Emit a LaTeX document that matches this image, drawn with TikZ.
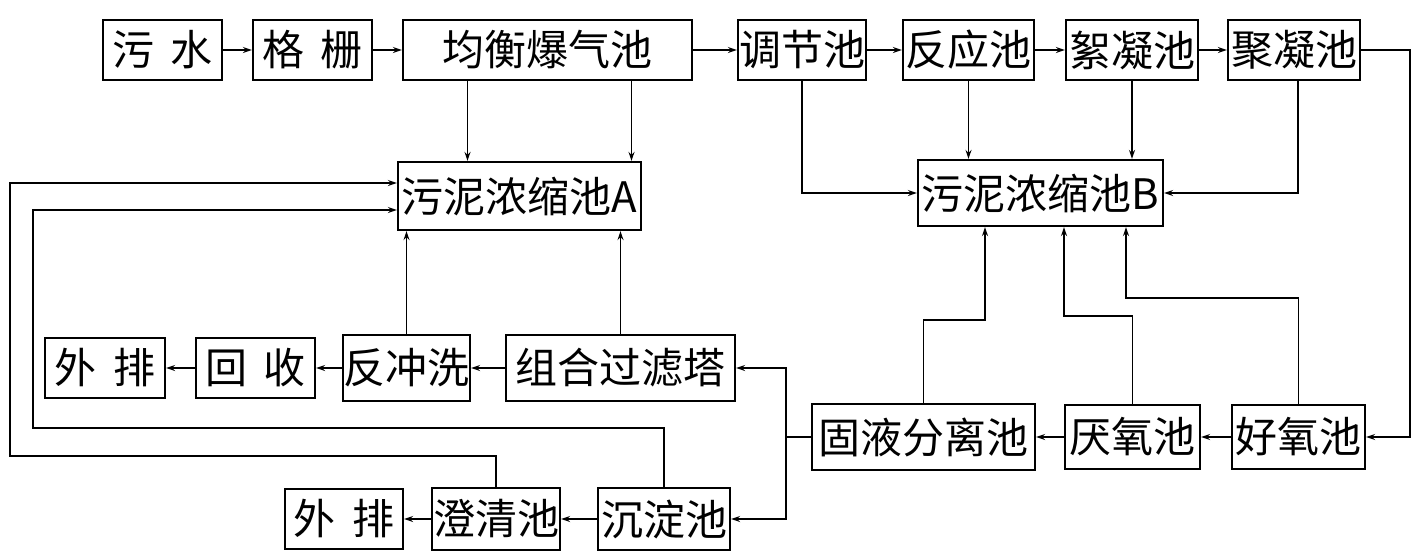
\documentclass[tikz,border=0pt]{standalone}
\usepackage{fontspec}
\newfontfamily\cjk{Noto Sans CJK SC}
\usetikzlibrary{arrows.meta}
\begin{document}
\begin{tikzpicture}[x=1pt,y=-1pt,
  box/.style={draw,line width=2.2pt,inner sep=0pt,minimum height=60pt,font=\cjk\fontsize{42}{44}\selectfont},
  arr/.style={-{Stealth[length=9pt,width=6pt]},line width=1.9pt}]
\useasboundingbox (0,0) rectangle (1417,555);

% Top row
\node[box,minimum width=119pt] (sw) at (162.5,50) {污\hspace{0.4em}水};
\node[box,minimum width=119pt] (gs) at (312.5,50) {格\hspace{0.4em}栅};
\node[box,minimum width=289pt] (jh) at (547.5,50) {均衡爆气池};
\node[box,minimum width=128pt] (tj) at (802,50) {调节池};
\node[box,minimum width=131pt] (fy) at (968.5,50) {反应池};
\node[box,minimum width=132pt] (xn) at (1132,50) {絮凝池};
\node[box,minimum width=132pt] (jn) at (1294,50) {聚凝池};

% Sludge thickeners
\node[box,minimum width=243pt,minimum height=68pt] (nsA) at (519.5,196) {污泥浓缩池A};
\node[box,minimum width=245pt,minimum height=66pt] (nsB) at (1040.5,193) {污泥浓缩池B};

% Filter row
\node[box,minimum width=120pt] (wp1) at (105,368) {外\hspace{0.4em}排};
\node[box,minimum width=119pt] (hs) at (255.5,368) {回\hspace{0.4em}收};
\node[box,minimum width=127pt,minimum height=66pt] (fcx) at (406.5,368) {反冲洗};
\node[box,minimum width=229pt,minimum height=66pt] (zh) at (620.5,368) {组合过滤塔};

% Biological row
\node[box,minimum width=223pt,minimum height=66pt] (gy) at (923.5,437) {固液分离池};
\node[box,minimum width=135pt,minimum height=64pt] (yy) at (1132.5,437) {厌氧池};
\node[box,minimum width=133pt,minimum height=64pt] (hy) at (1298.5,437) {好氧池};

% Settling row
\node[box,minimum width=118pt] (wp2) at (344,519) {外\hspace{0.4em}排};
\node[box,minimum width=128pt,minimum height=62pt] (cq) at (496,519) {澄清池};
\node[box,minimum width=132pt,minimum height=62pt] (cd) at (664,519) {沉淀池};

% Water flow
\draw[arr] (sw) -- (gs);
\draw[arr] (gs) -- (jh);
\draw[arr] (jh) -- (tj);
\draw[arr] (tj) -- (fy);
\draw[arr] (fy) -- (xn);
\draw[arr] (xn) -- (jn);
\coordinate (r) at (1410,437);
\draw[arr] (jn.east) -| (r) -- (hy.east);
\draw[arr] (hy) -- (yy);
\draw[arr] (yy) -- (gy);
\coordinate (j) at (786,437);
\draw[line width=1.9pt] (gy.west) -- (j);
\draw[arr] (j) |- (zh.east);
\draw[arr] (j) |- (cd.east);
\draw[arr] (zh) -- (fcx);
\draw[arr] (fcx) -- (hs);
\draw[arr] (hs) -- (wp1);
\draw[arr] (cd) -- (cq);
\draw[arr] (cq) -- (wp2);

% Sludge to A
\draw[arr] ([xshift=-80pt]jh.south) -- ([xshift=-80pt]jh.south |- nsA.north);
\draw[arr] ([xshift=84pt]jh.south) -- ([xshift=84pt]jh.south |- nsA.north);
\draw[arr] (fcx.north) -- (fcx.north |- nsA.south);
\draw[arr] (zh.north) -- (zh.north |- nsA.south);
\draw[arr] (cq.north) |- (10,456) |- ([yshift=13pt]nsA.west);
\draw[arr] (cd.north) |- (33,428) |- ([yshift=-14pt]nsA.west);

% Sludge to B
\draw[arr] (tj.south) |- (nsB.west);
\draw[arr] (fy.south) -- (fy.south |- nsB.north);
\draw[arr] (xn.south) -- (xn.south |- nsB.north);
\draw[arr] ([xshift=4pt]jn.south) |- (nsB.east);
\coordinate (b1) at (985,320);
\coordinate (b2) at (1064,316);
\coordinate (b3) at (1126,298);
\draw[arr] (gy.north) |- (b1) -- (b1 |- nsB.south);
\draw[arr] (yy.north) |- (b2) -- (b2 |- nsB.south);
\draw[arr] (hy.north) |- (b3) -- (b3 |- nsB.south);
\end{tikzpicture}
\end{document}
